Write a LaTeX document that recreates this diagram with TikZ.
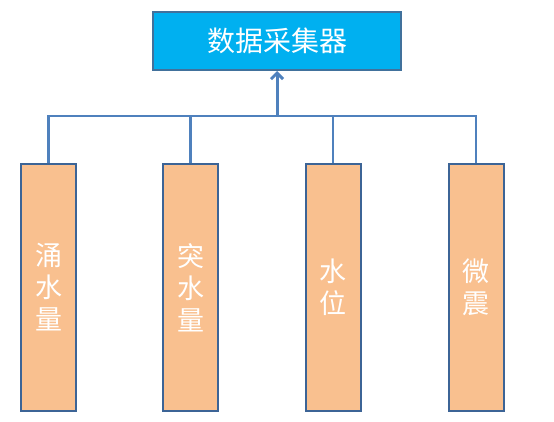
\documentclass[tikz,border=0pt]{standalone}
\usepackage{fontspec}
\newfontfamily\cjk{Noto Sans CJK SC}
\usetikzlibrary{arrows.meta}
\definecolor{topfill}{HTML}{00B0F0}
\definecolor{topdraw}{HTML}{41719C}
\definecolor{boxfill}{HTML}{F9C08F}
\definecolor{boxdraw}{HTML}{3C6496}
\definecolor{linecol}{HTML}{4F81BD}
\begin{document}
\begin{tikzpicture}[x=1pt,y=-1pt,
  topbox/.style={draw=topdraw,fill=topfill,line width=2pt,minimum width=248pt,minimum height=58pt,inner sep=0pt,text=white,font=\cjk\fontsize{28}{32}\selectfont},
  sensor/.style={draw=boxdraw,fill=boxfill,line width=2pt,minimum width=55pt,minimum height=247pt,inner sep=0pt,text=white,align=center,font=\cjk\fontsize{27}{32}\selectfont},
  conn/.style={draw=linecol,line width=2.4pt}]
\useasboundingbox (0,0) rectangle (554,422);
\node[topbox] (top) at (277,41) {数据采集器};
\node[sensor] (b1) at (48.5,287.5) {涌\\水\\量};
\node[sensor] (b2) at (190.5,287.5) {突\\水\\量};
\node[sensor] (b3) at (333,287.5) {水\\位};
\node[sensor] (b4) at (476,287.5) {微\\震};
\coordinate (bus) at (277,116);
\draw[conn] (b1.north) -- (b1.north |- bus) -- (b4.north |- bus) -- (b4.north);
\draw[conn] (b2.north) -- (b2.north |- bus);
\draw[conn] (b3.north) -- (b3.north |- bus);
\draw[conn,line width=3pt,-{Straight Barb[length=6pt,width=12pt]}] (bus) -- (top.south);
\end{tikzpicture}
\end{document}
